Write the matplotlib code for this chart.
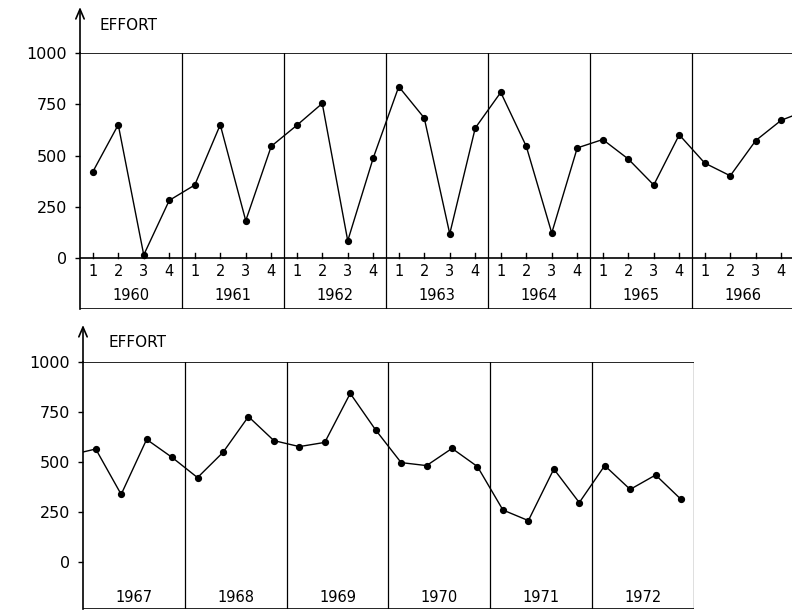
import matplotlib
matplotlib.use('Agg')
import matplotlib.pyplot as plt

# ---------------- data ----------------
top_years = ['1960', '1961', '1962', '1963', '1964', '1965', '1966']
top_effort = [420, 650, 15, 281,
              356, 650, 182, 545,
              647, 754, 84, 488,
              836, 683, 118, 634,
              808, 545, 122, 537,
              578, 483, 356, 601,
              463, 401, 573, 672]
top_lead_out = 720          # line continues beyond the cropped right edge

bottom_years = ['1967', '1968', '1969', '1970', '1971', '1972']
bottom_lead_in = 535        # line enters from the left of the lower panel
bottom_effort = [565, 338, 613, 523,
                 422, 548, 727, 607,
                 577, 598, 843, 660,
                 497, 482, 568, 477,
                 260, 207, 465, 297,
                 482, 363, 435, 313]

quarter_labels = ['1', '2', '3', '4']
y_ticks = [0, 250, 500, 750, 1000]
y_ticklabels = ['0', '250', '500', '750', '1000']
axis_label = 'EFFORT'

# ---------------- layout helpers ----------------
W, H = 792, 611
fig = plt.figure(figsize=(W / 100, H / 100), dpi=100)
fig.patch.set_facecolor('white')


def px_axes(left, top, right, bottom):
    return fig.add_axes([left / W, 1 - bottom / H, (right - left) / W, (bottom - top) / H])


LW_FRAME = 1.2
LW_DIV = 0.9


def setup(ax, n_years, ymin, arrow_top, label_xy):
    ax.set_xlim(0, n_years)
    ax.set_ylim(ymin, 1000)
    for s in ['top', 'right', 'bottom']:
        ax.spines[s].set_visible(False)
    ax.spines['left'].set_linewidth(LW_FRAME)
    ax.set_xticks([])
    ax.set_yticks(y_ticks)
    ax.set_yticklabels(y_ticklabels)
    ax.tick_params(axis='y', direction='out', length=3.5, width=1.0, pad=6, labelsize=11.5)
    ax.patch.set_alpha(0)
    # arrow on the y axis
    ax.annotate('', xy=(0, arrow_top), xytext=(0, 1000),
                arrowprops=dict(arrowstyle='->,head_length=0.7,head_width=0.3',
                                lw=LW_FRAME, color='black', shrinkA=0, shrinkB=0),
                annotation_clip=False)
    ax.text(label_xy[0], label_xy[1], axis_label, ha='left', va='center',
            fontsize=11, clip_on=False)
    # frame: 1000 line and bottom line
    ax.plot([0, n_years], [1000, 1000], color='black', lw=LW_FRAME)
    ax.plot([0, n_years], [ymin, ymin], color='black', lw=LW_FRAME)
    for i in range(1, n_years + 1):
        ax.plot([i, i], [ymin, 1000], color='black', lw=LW_DIV)


# ---------------- top panel ----------------
ax1 = px_axes(80, 53, 80 + 102 * 7, 309.25)
n1 = len(top_years)
setup(ax1, n1, -250, 1224, (0.196, 1132))
ax1.axhline(0, color='black', lw=LW_FRAME)
x1 = [i + (q + 0.5) / 4 for i in range(n1) for q in range(4)]
ax1.plot(x1 + [n1 + 0.125], top_effort + [top_lead_out], color='black', lw=1.0)
ax1.plot(x1, top_effort, 'o', color='black', ms=4.2, mfc='black', mec='black')
for i, yr in enumerate(top_years):
    for q, ql in enumerate(quarter_labels):
        xq = i + (q + 0.5) / 4
        ax1.plot([xq, xq], [0, 25], color='black', lw=1.0)
        ax1.text(xq, -68, ql, ha='center', va='center', fontsize=10.5)
    ax1.text(i + 0.5, -185, yr, ha='center', va='center', fontsize=10.5)

# ---------------- bottom panel ----------------
ax2 = px_axes(83, 362, 83 + 101.8 * 6, 609)
n2 = len(bottom_years)
setup(ax2, n2, -235, 1185, (0.255, 1100))
x2 = [i + (q + 0.5) / 4 for i in range(n2) for q in range(4)]
ax2.plot([-0.125] + x2, [bottom_lead_in] + bottom_effort, color='black', lw=1.0)
ax2.plot(x2, bottom_effort, 'o', color='black', ms=4.2, mfc='black', mec='black')
for i, yr in enumerate(bottom_years):
    ax2.text(i + 0.5, -175, yr, ha='center', va='center', fontsize=10.5)

fig.savefig('out.png', dpi=100)
